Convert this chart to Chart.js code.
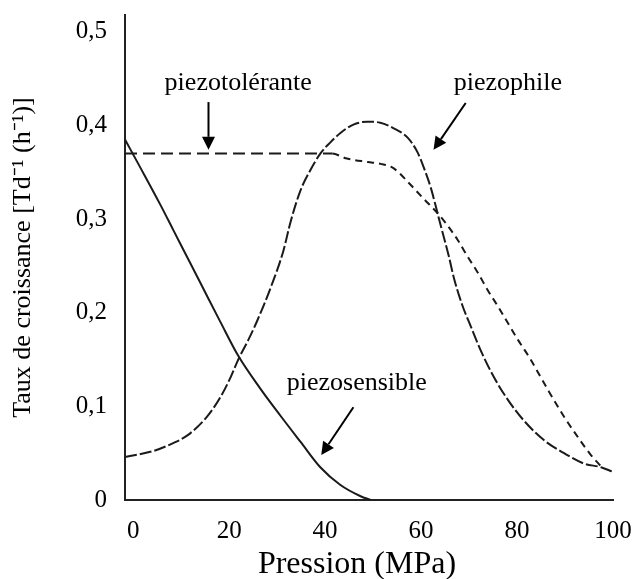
<!DOCTYPE html>
<html>
<head>
<meta charset="utf-8">
<script src="https://cdn.jsdelivr.net/npm/chart.js@4.4.0/dist/chart.umd.min.js"></script>
<style>
html,body{margin:0;padding:0;background:#fff;}
canvas{display:block;}
</style>
</head>
<body>
<canvas id="c" width="636" height="579"></canvas>
<script>
// ---- data (pressure in MPa, growth rate in h^-1) ----
const sensiblePressure = [-1.7, 1.5, 5.6, 8.4, 11.3, 14.0, 18.2, 21.9, 26.5, 30.7, 34.9, 39.0, 43.2, 47.4, 49.5];
const sensibleRate     = [0.385, 0.355, 0.316, 0.288, 0.259, 0.232, 0.190, 0.154, 0.119, 0.090, 0.062, 0.035, 0.016, 0.004, 0.0];

const philePressure = [-1.7, 4.0, 8.0, 11.3, 15.4, 18.2, 20.3, 21.9, 24.0, 25.9, 28.6, 31.3, 32.8, 34.9, 37.0, 39.0, 41.1, 43.2, 45.9, 48.8, 51.5, 54.3, 57.2, 59.3, 60.5, 62.0, 63.0, 64.0, 65.8, 66.8, 68.6, 70.4, 72.4, 75.2, 78.1, 81.4, 85.6, 89.8, 93.9, 97.5, 100];
const phileRate     = [0.046, 0.052, 0.060, 0.069, 0.089, 0.110, 0.131, 0.150, 0.171, 0.192, 0.226, 0.266, 0.297, 0.331, 0.353, 0.370, 0.382, 0.392, 0.401, 0.404, 0.403, 0.397, 0.387, 0.371, 0.356, 0.334, 0.315, 0.295, 0.260, 0.238, 0.208, 0.185, 0.160, 0.131, 0.107, 0.085, 0.064, 0.050, 0.039, 0.035, 0.030];

const tolerantePressure = [-1.7, 41.5, 44.3, 48.9, 51.6, 53.7, 55.1, 57.2, 60.5, 63.5, 65.1, 67.6, 69.7, 71.8, 73.9, 76.0, 78.1, 80.2, 82.6, 86.4, 89.8, 92.7, 95.4, 97.5];
const toleranteRate     = [0.370, 0.370, 0.365, 0.361, 0.359, 0.356, 0.351, 0.340, 0.322, 0.306, 0.296, 0.278, 0.260, 0.243, 0.224, 0.207, 0.189, 0.171, 0.152, 0.118, 0.089, 0.067, 0.048, 0.036];

const xTickValues = [0, 20, 40, 60, 80, 100];
const yTickValues = [0, 0.1, 0.2, 0.3, 0.4, 0.5];

const seriesNames = ['piezosensible', 'piezophile', 'piezotolérante'];

// ---- annotation placement (data coordinates) ----
const annotationLayout = [
  {text: 'piezotolérante', at: [21.9, 0.438], from: [15.7, 0.425], to: [15.7, 0.374]},
  {text: 'piezophile',     at: [78.1, 0.438], from: [69.3, 0.424], to: [62.6, 0.374]},
  {text: 'piezosensible',  at: [46.6, 0.118], from: [45.9, 0.099], to: [39.2, 0.048]}
];

const toPoints = (xs, ys) => xs.map((v, i) => ({x: v, y: ys[i]}));
const SERIF = '"Liberation Serif", "Times New Roman", serif';
const INK = '#1a1a1a';

const annotatePlugin = {
  id: 'annotate',
  afterDatasetsDraw(chart) {
    const {ctx, scales: {x, y}} = chart;
    ctx.save();
    ctx.fillStyle = '#000';
    ctx.strokeStyle = '#000';
    ctx.font = '26px ' + SERIF;
    ctx.textAlign = 'center';
    ctx.textBaseline = 'alphabetic';
    for (const a of annotationLayout) {
      ctx.fillText(a.text, x.getPixelForValue(a.at[0]), y.getPixelForValue(a.at[1]));
      const x0 = x.getPixelForValue(a.from[0]), y0 = y.getPixelForValue(a.from[1]);
      const x1 = x.getPixelForValue(a.to[0]),   y1 = y.getPixelForValue(a.to[1]);
      const ang = Math.atan2(y1 - y0, x1 - x0);
      const head = 13, half = 6.5;
      const bx = x1 - head * Math.cos(ang), by = y1 - head * Math.sin(ang);
      ctx.lineWidth = 2;
      ctx.beginPath(); ctx.moveTo(x0, y0); ctx.lineTo(bx, by); ctx.stroke();
      ctx.beginPath();
      ctx.moveTo(x1, y1);
      ctx.lineTo(bx + half * Math.sin(ang), by - half * Math.cos(ang));
      ctx.lineTo(bx - half * Math.sin(ang), by + half * Math.cos(ang));
      ctx.closePath(); ctx.fill();
    }
    ctx.restore();
  }
};

const baseLine = {
  borderColor: INK, borderWidth: 2, pointRadius: 0, pointHoverRadius: 0,
  fill: false, cubicInterpolationMode: 'monotone', clip: false
};

new Chart(document.getElementById('c'), {
  type: 'line',
  data: {
    datasets: [
      Object.assign({label: seriesNames[0], data: toPoints(sensiblePressure, sensibleRate)}, baseLine),
      Object.assign({label: seriesNames[1], data: toPoints(philePressure, phileRate), borderDash: [12, 3]}, baseLine),
      Object.assign({label: seriesNames[2], data: toPoints(tolerantePressure, toleranteRate), borderDash: [12, 6],
        segment: {borderDash: c => c.p0.parsed.x >= 41.5 ? [7, 5] : [12, 6]}}, baseLine)
    ]
  },
  options: {
    responsive: false,
    animation: false,
    events: [],
    layout: {padding: {left: 0, right: 23, top: 15, bottom: 0}},
    plugins: {legend: {display: false}, tooltip: {enabled: false}},
    scales: {
      x: {
        type: 'linear', min: -1.7, max: 100,
        afterBuildTicks: s => { s.ticks = xTickValues.map(v => ({value: v})); },
        afterFit: s => { s.height = 79; s.paddingLeft = 0; s.paddingRight = 0; },
        grid: {display: false, drawTicks: false},
        border: {display: true, color: '#222', width: 2},
        ticks: {color: '#000', font: {family: SERIF, size: 25}, padding: 16, maxRotation: 0, autoSkip: false},
        title: {display: true, text: 'Pression (MPa)   ', color: '#000',
          font: {family: SERIF, size: 32, lineHeight: 1}, padding: {top: 0, bottom: -2}}
      },
      y: {
        type: 'linear', min: 0, max: 0.518,
        afterBuildTicks: s => { s.ticks = yTickValues.map(v => ({value: v})); },
        afterFit: s => { s.width = 125; s.paddingTop = 0; s.paddingBottom = 0; },
        grid: {display: false, drawTicks: false},
        border: {display: true, color: '#222', width: 2},
        ticks: {color: '#000', font: {family: SERIF, size: 25}, padding: 18,
          callback: v => v === 0 ? '0' : v.toFixed(1).replace('.', ',')},
        title: {display: true, text: 'Taux de croissance [Td\u207B\u00B9 (h\u207B\u00B9)]', color: '#000',
          font: {family: SERIF, size: 26}, padding: {top: 8, bottom: 0}}
      }
    }
  },
  plugins: [annotatePlugin]
});
</script>
</body>
</html>
